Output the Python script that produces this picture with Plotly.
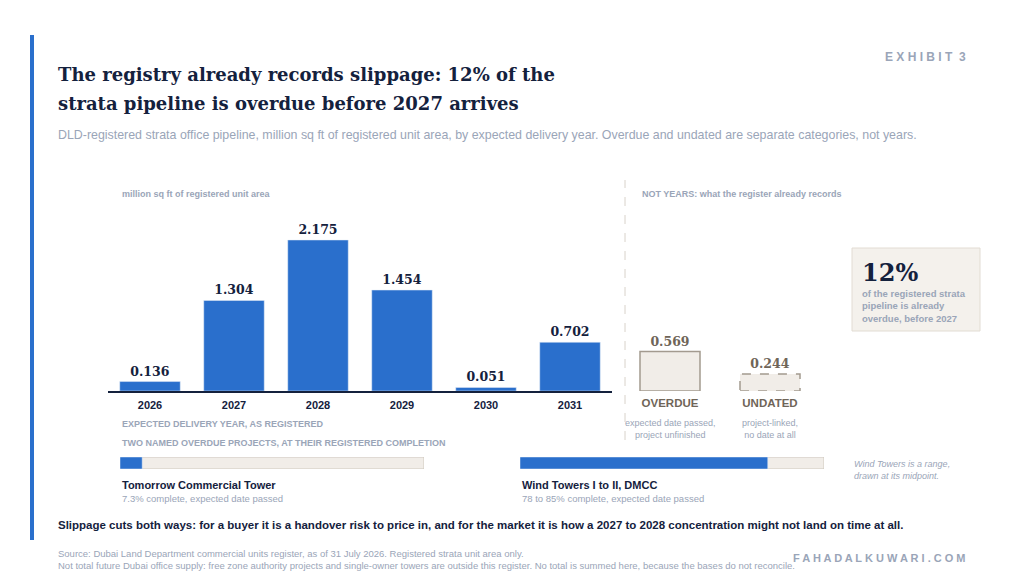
import plotly.graph_objects as go

years = ["2026", "2027", "2028", "2029", "2030", "2031"]
volumes = [0.136, 1.304, 2.175, 1.454, 0.051, 0.702]
side_cats = ["OVERDUE", "UNDATED"]
side_vals = [0.569, 0.244]
side_notes = ["expected date passed,<br>project unfinished", "project-linked,<br>no date at all"]
projects = ["Tomorrow Commercial Tower", "Wind Towers I to II, DMCC"]
proj_complete = [7.3, 81.5]
proj_notes = ["7.3% complete, expected date passed", "78 to 85% complete, expected date passed"]

BLUE = "#2a6fcc"
NAVY = "#14213d"
GREY = "#9aa5b8"
BEIGE = "#f1ede8"
BROWN = "#6f6558"
SERIF = "DejaVu Serif"
SANS = "Liberation Sans, Arial"

W, H = 1024, 576
OFF = 8  # page body margin offset
def px(x): return (x - OFF) / W
def py(y): return 1 - (y - OFF) / H

fig = go.Figure()

fig.add_trace(go.Bar(
    x=years, y=volumes, marker_color=BLUE, width=0.72,
    text=[f"{v:.3f}" for v in volumes], textposition="outside",
    textfont=dict(family=SERIF, size=12.5, color=NAVY, weight="bold"), cliponaxis=False,
    xaxis="x", yaxis="y"))

fig.add_trace(go.Bar(
    x=side_cats, y=side_vals, width=0.6,
    marker=dict(color=[BEIGE, BEIGE], line=dict(color=["#a39a8f", "rgba(0,0,0,0)"], width=1.5)),
    text=[f"{v:.3f}" for v in side_vals], textposition="outside",
    textfont=dict(family=SERIF, size=12.5, color=BROWN, weight="bold"), cliponaxis=False,
    xaxis="x2", yaxis="y2"))
# dashed outline for the undated bar
fig.add_shape(type="rect", xref="x2", yref="y2", x0=0.7, x1=1.3, y0=0, y1=side_vals[1],
              line=dict(color="#a39a8f", width=1.5, dash="dash"))

# progress bars
for i, (name, pct) in enumerate(zip(projects, proj_complete)):
    xa = "x3" if i == 0 else "x4"
    ya = "y3" if i == 0 else "y4"
    fig.add_trace(go.Bar(x=[100], y=[0], orientation="h", width=1,
                         marker=dict(color=BEIGE, line=dict(color="#cfc8bf", width=1)),
                         xaxis=xa, yaxis=ya))
    fig.add_trace(go.Bar(x=[pct], y=[0], orientation="h", width=1, marker_color=BLUE,
                         xaxis=xa, yaxis=ya))

hidden = dict(visible=False)
fig.update_layout(
    width=W, height=H, margin=dict(l=0, r=0, t=0, b=0),
    paper_bgcolor="white", plot_bgcolor="rgba(0,0,0,0)",
    showlegend=False, barmode="overlay",
    xaxis=dict(domain=[px(108), px(612)], showline=True, linecolor=NAVY, linewidth=1.5,
               ticks="", ticklabelstandoff=3,
               tickfont=dict(family=SANS, size=11, color=NAVY, weight="bold")),
    yaxis=dict(domain=[py(391), py(210.5)], range=[0, 2.6], visible=False),
    xaxis2=dict(domain=[px(620), px(820)], showline=False, ticks="", ticklabelstandoff=3,
                tickfont=dict(family=SANS, size=11.5, color=BROWN, weight="bold")),
    yaxis2=dict(domain=[py(391), py(210.5)], range=[0, 2.6], visible=False, anchor="x2"),
    xaxis3=dict(domain=[px(120), px(424)], range=[0, 100], **hidden),
    yaxis3=dict(domain=[py(469), py(457)], range=[-0.5, 0.5], visible=False, anchor="x3"),
    xaxis4=dict(domain=[px(520), px(824)], range=[0, 100], **hidden),
    yaxis4=dict(domain=[py(469), py(457)], range=[-0.5, 0.5], visible=False, anchor="x4"),
)

shapes = [
    dict(type="rect", xref="paper", yref="paper", x0=px(30), x1=px(34), y0=py(540), y1=py(35),
         fillcolor=BLUE, line_width=0),
    dict(type="line", xref="paper", yref="paper", x0=px(625), x1=px(625), y0=py(440), y1=py(180),
         line=dict(color="#d8d2ca", width=1, dash="dash")),
    dict(type="rect", xref="paper", yref="paper", x0=px(852), x1=px(980), y0=py(331), y1=py(248),
         fillcolor="#f4f1ec", line=dict(color="#e2dcd3", width=1)),
]
for s in shapes:
    fig.add_shape(**s)

def txt(x, y, s, size=11, color=GREY, family=SANS, bold=False, anchor="left", yanchor="top"):
    fig.add_annotation(x=px(x), y=py(y), xref="paper", yref="paper", text=s, showarrow=False,
                       xanchor=anchor, yanchor=yanchor, align=anchor,
                       font=dict(size=size, color=color, family=family, weight="bold" if bold else "normal"))

txt(56, 74, "The registry already records slippage: 12% of the",
    size=18, color=NAVY, family=SERIF, bold=True, yanchor="middle")
txt(56, 104, "strata pipeline is overdue before 2027 arrives",
    size=18, color=NAVY, family=SERIF, bold=True, yanchor="middle")
txt(56, 126, "DLD-registered strata office pipeline, million sq ft of registered unit area, by expected delivery year. Overdue and undated are separate categories, not years.",
    size=12.4, color=GREY)
txt(968, 48, "E X H I B I T &nbsp;3", size=12, color=GREY, bold=True, anchor="right")
txt(120, 187, "million sq ft of registered unit area", size=9, bold=True)
txt(640, 187, "NOT YEARS: what the register already records", size=9, bold=True)
txt(120, 417, "EXPECTED DELIVERY YEAR, AS REGISTERED", size=9, bold=True)
txt(120, 436, "TWO NAMED OVERDUE PROJECTS, AT THEIR REGISTERED COMPLETION", size=9, bold=True)
for cx, note in zip([670, 770], side_notes):
    txt(cx, 416, note, size=9, color=GREY, anchor="center")
txt(860, 256, "12%", size=24, color=NAVY, family=SERIF, bold=True)
txt(860, 286, "of the registered strata<br>pipeline is already<br>overdue, before 2027", size=9.5, color=GREY, bold=True)
for x0, name, note in zip([120, 520], projects, proj_notes):
    txt(x0, 477, name, size=11, color=NAVY, bold=True)
    txt(x0, 491, note, size=9.5, color=GREY)
txt(852, 457, "<i>Wind Towers is a range,<br>drawn at its midpoint.</i>", size=9, color=GREY)
txt(56, 517, "Slippage cuts both ways: for a buyer it is a handover risk to price in, and for the market it is how a 2027 to 2028 concentration might not land on time at all.",
    size=11.5, color=NAVY, bold=True)
txt(56, 546, "Source: Dubai Land Department commercial units register, as of 31 July 2026. Registered strata unit area only.<br>Not total future Dubai office supply: free zone authority projects and single-owner towers are outside this register. No total is summed here, because the bases do not reconcile.",
    size=9.5, color=GREY)
txt(968, 550, "F A H A D A L K U W A R I . C O M", size=11, color=GREY, bold=True, anchor="right")

fig.write_html("out.html")
